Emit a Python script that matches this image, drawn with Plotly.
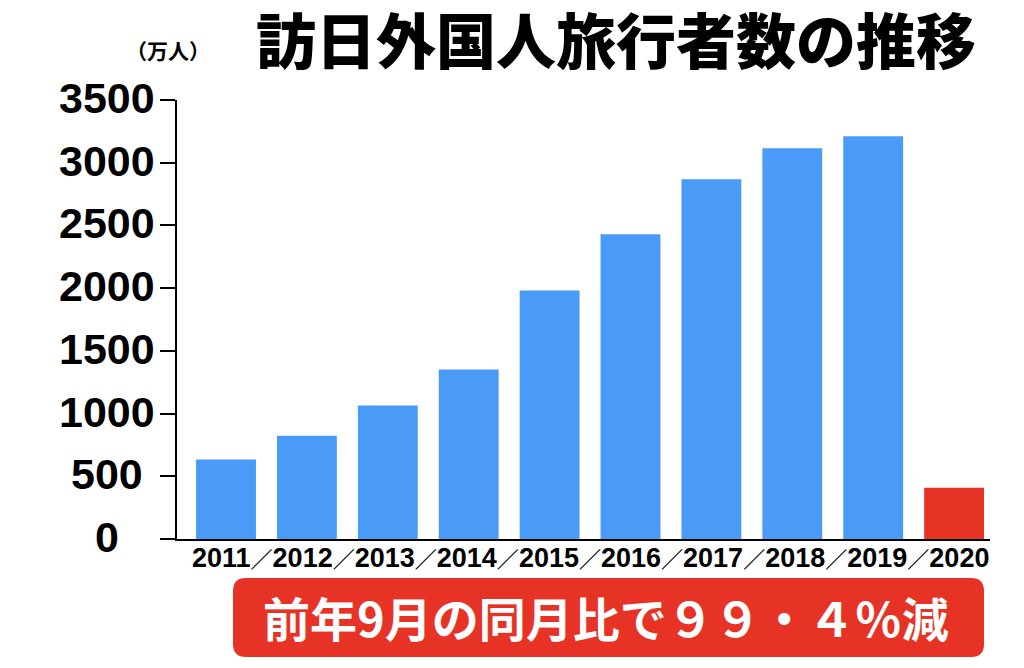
import plotly.graph_objects as go

# ---- data ----
years = ["2011", "2012", "2013", "2014", "2015", "2016", "2017", "2018", "2019", "2020"]
visitors = [633, 824, 1064, 1351, 1982, 2429, 2868, 3115, 3211, 409]  # 万人
y_ticks = [0, 500, 1000, 1500, 2000, 2500, 3000, 3500]
title_text = "訪日外国人旅行者数の推移"
unit_text = "（万人）"
banner_text = "前年9月の同月比で９９・４％減"

# ---- style ----
BLUE = "#4A9BF7"
RED = "#E63325"
bar_colors = [BLUE] * (len(years) - 1) + [RED]

# the page body has an 8px margin, so the figure is sized to fit the window
W, H = 1016, 660
L, T = 169, 92
PW, PH = 813, 439
R, B = W - L - PW, H - T - PH


# helpers: page pixel -> paper coords (plot area is page x 177..990, y 100..539)
def fx(px):
    return (px - 177) / PW


def fy(py):
    return (539 - py) / PH


fig = go.Figure()
fig.add_trace(go.Bar(
    x=years, y=visitors, marker=dict(color=bar_colors, line=dict(width=0)),
    width=0.74, hoverinfo="skip",
))

jp = "Noto Sans CJK JP"
slash = '<span style="font-size:22px">／</span>'
annotations = [
    dict(text=title_text, x=fx(616), y=fy(44), xref="paper", yref="paper",
         showarrow=False, xanchor="center", yanchor="middle",
         font=dict(family="Liberation Sans, " + jp, size=60, color="black", weight=900)),
    dict(text=unit_text, x=fx(168), y=fy(50), xref="paper", yref="paper",
         showarrow=False, xanchor="center", yanchor="middle",
         font=dict(family=jp, size=21, color="black", weight=700)),
    dict(text=slash.join(years), x=fx(190), y=fy(558), xref="paper", yref="paper",
         showarrow=False, xanchor="left", yanchor="middle",
         font=dict(family="Liberation Sans, " + jp, size=27, color="black", weight=700)),
    dict(text=banner_text, x=fx(606), y=fy(616), xref="paper", yref="paper",
         showarrow=False, xanchor="center", yanchor="middle",
         font=dict(family=jp, size=47, color="white", weight=700)),
]
for v in y_ticks:
    annotations.append(dict(
        text=str(v), x=fx(107), y=v, xref="paper", yref="y", yshift=2,
        showarrow=False, xanchor="center", yanchor="middle",
        font=dict(family="Liberation Sans", size=43, color="black", weight=700)))

# rounded banner rectangle
x0, x1, y0, y1 = fx(233), fx(984), fy(657), fy(578)
rx, ry = 13 / PW, 13 / PH
path = (f"M {x0+rx},{y0} L {x1-rx},{y0} Q {x1},{y0} {x1},{y0+ry} "
        f"L {x1},{y1-ry} Q {x1},{y1} {x1-rx},{y1} L {x0+rx},{y1} "
        f"Q {x0},{y1} {x0},{y1-ry} L {x0},{y0+ry} Q {x0},{y0} {x0+rx},{y0} Z")

fig.update_layout(
    width=W, height=H, autosize=False,
    margin=dict(l=L, r=R, t=T, b=B, pad=0),
    paper_bgcolor="white", plot_bgcolor="white",
    showlegend=False,
    xaxis=dict(type="category", range=[-0.606, 9.444], showticklabels=False,
               ticks="", showgrid=False, zeroline=False,
               showline=True, linecolor="black", linewidth=1.5),
    yaxis=dict(range=[0, 3500], tickvals=y_ticks, showticklabels=False,
               ticks="outside", ticklen=15, tickwidth=1.5, tickcolor="black",
               showgrid=False, zeroline=False,
               showline=True, linecolor="black", linewidth=1.5),
    annotations=annotations,
    shapes=[dict(type="path", path=path, xref="paper", yref="paper",
                 fillcolor=RED, line=dict(width=0), layer="below")],
)

fig.write_html("out.html")
